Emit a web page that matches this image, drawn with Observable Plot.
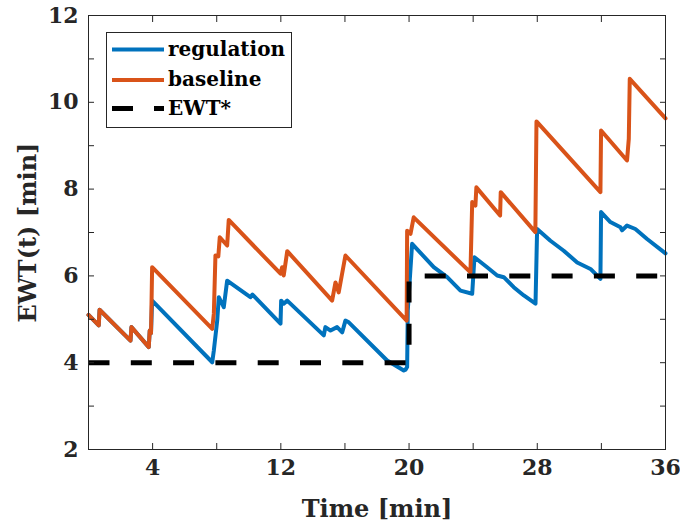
<!DOCTYPE html>
<html><head><meta charset="utf-8">
<script src="https://cdn.jsdelivr.net/npm/d3@7"></script>
<script src="https://cdn.jsdelivr.net/npm/@observablehq/plot@0.6"></script>
<style>body{margin:0;background:#fff} svg{display:block}</style>
</head><body><div id="chart"></div>
<script>
// ---- data ----
const regTime = [0, 0.64, 0.69, 2.62, 2.68, 3.76, 3.82, 3.9, 3.97, 7.72, 7.82, 8.03, 8.13, 8.44, 8.65, 10.1, 10.23, 11.98, 12.02, 12.18, 12.4, 14.68, 14.78, 15.1, 15.51, 15.83, 16.03, 16.24, 18.63, 19.67, 19.78, 19.88, 19.92, 20.19, 21.54, 22.38, 23.21, 23.94, 24.08, 24.87, 25.5, 25.91, 26.53, 27.16, 27.89, 27.99, 28.82, 29.65, 30.49, 31.32, 31.94, 31.98, 32.56, 33.19, 33.29, 33.6, 34.12, 34.85, 36];
const regValue = [5.1, 4.86, 5.22, 4.51, 4.82, 4.36, 4.74, 4.68, 5.43, 4.01, 4.28, 4.97, 5.51, 5.28, 5.89, 5.51, 5.57, 4.9, 5.43, 5.36, 5.43, 4.63, 4.82, 4.74, 4.82, 4.7, 4.97, 4.93, 4.05, 3.82, 3.84, 3.9, 5.2, 6.74, 6.2, 5.97, 5.66, 5.59, 6.43, 6.2, 6.01, 5.97, 5.74, 5.55, 5.36, 7.08, 6.81, 6.58, 6.31, 6.16, 5.93, 7.47, 7.24, 7.12, 7.05, 7.16, 7.08, 6.85, 6.52];

const baseTime = [0, 0.64, 0.69, 2.62, 2.68, 3.76, 3.82, 3.9, 3.97, 7.72, 7.82, 7.92, 8.1, 8.19, 8.65, 8.75, 11.98, 12.08, 12.18, 12.4, 15.2, 15.41, 15.61, 16.03, 19.85, 19.88, 20.09, 20.29, 23.83, 23.94, 24.14, 24.2, 25.68, 25.72, 27.88, 27.95, 31.94, 31.98, 33.6, 33.71, 33.77, 36];
const baseValue = [5.1, 4.86, 5.22, 4.51, 4.82, 4.36, 4.74, 4.68, 6.2, 4.78, 5.13, 6.47, 6.45, 6.89, 6.7, 7.29, 6.05, 6.2, 6.01, 6.57, 5.43, 5.85, 5.62, 6.47, 4.97, 7.04, 6.97, 7.35, 6.08, 7.7, 7.62, 8.04, 7.39, 7.93, 7.01, 9.56, 7.93, 9.35, 8.66, 9.16, 10.54, 9.63];

const targetTime = [0, 20, 20, 36];
const targetValue = [4, 4, 6, 6];

const seriesNames = ["regulation", "baseline", "EWT*"];
const seriesColors = ["#0072BD", "#D95319", "#000000"];

const xTickLabels = [4, 12, 20, 28, 36];
const xTicksAll = [4, 8, 12, 16, 20, 24, 28, 32];
const yTickLabels = [2, 4, 6, 8, 10, 12];
const yTicksAll = [3, 4, 5, 6, 7, 8, 9, 10, 11];

// ---- build tables ----
const regulation = regTime.map((t, i) => ({t, v: regValue[i]}));
const baseline = baseTime.map((t, i) => ({t, v: baseValue[i]}));
const target = targetTime.map((t, i) => ({t, v: targetValue[i]}));

const FONT = "DejaVu Serif";
const INK = "#262626";

const plot = Plot.plot({
  width: 680, height: 531,
  marginLeft: 88, marginRight: 15, marginTop: 15, marginBottom: 82,
  x: {domain: [0, 36]},
  y: {domain: [2, 12]},
  style: {fontFamily: FONT, fontWeight: "bold", fontSize: "22px", color: INK, background: "#fff"},
  marks: [
    Plot.line(regulation, {x: "t", y: "v", stroke: seriesColors[0], strokeWidth: 4, strokeLinejoin: "round", strokeLinecap: "round"}),
    Plot.line(baseline, {x: "t", y: "v", stroke: seriesColors[1], strokeWidth: 4, strokeLinejoin: "round", strokeLinecap: "round"}),
    Plot.line(target, {x: "t", y: "v", stroke: seriesColors[2], strokeWidth: 5, strokeDasharray: "21,21.3", strokeLinecap: "butt", strokeLinejoin: "miter"}),
    Plot.frame({stroke: INK, strokeWidth: 1}),
    // inward ticks on all four sides
    Plot.axisX(xTicksAll, {anchor: "bottom", tickSize: 6, dy: -6, fill: "none", stroke: INK, label: null}),
    Plot.axisX(xTicksAll, {anchor: "top", tickSize: 6, dy: 6, fill: "none", stroke: INK, label: null}),
    Plot.axisY(yTicksAll, {anchor: "left", tickSize: 6, dx: 6, fill: "none", stroke: INK, label: null}),
    Plot.axisY(yTicksAll, {anchor: "right", tickSize: 6, dx: -6, fill: "none", stroke: INK, label: null}),
    // tick labels
    Plot.axisX(xTickLabels, {anchor: "bottom", tickSize: 0, tickPadding: 10, label: null, fill: INK, fontSize: 22}),
    Plot.axisY(yTickLabels, {anchor: "left", tickSize: 0, tickPadding: 10, label: null, fill: INK, fontSize: 22}),
    // axis titles
    Plot.text(["Time [min]"], {frameAnchor: "bottom", dy: 60, text: d => d, textAnchor: "middle", lineAnchor: "middle", fontSize: 24, fill: INK, fontWeight: "bold"}),
    Plot.text(["EWT(t) [min]"], {frameAnchor: "left", dx: -60, rotate: -90, text: d => d, textAnchor: "middle", lineAnchor: "middle", fontSize: 24, fill: INK, fontWeight: "bold"})
  ]
});

// ---- legend (inside the axes, top-left) ----
const svg = d3.select(plot);
const lg = svg.append("g").attr("font-family", FONT).attr("font-weight", "bold").attr("font-size", 20).attr("text-anchor", "start");
lg.append("rect").attr("x", 106.5).attr("y", 32.5).attr("width", 185).attr("height", 95)
  .attr("fill", "#fff").attr("stroke", INK).attr("stroke-width", 1);
const rowsY = [49.5, 80, 108.5];
seriesNames.forEach((name, i) => {
  lg.append("line").attr("x1", 112).attr("x2", 164).attr("y1", rowsY[i]).attr("y2", rowsY[i])
    .attr("stroke", seriesColors[i]).attr("stroke-width", i === 2 ? 5 : 4)
    .attr("stroke-dasharray", i === 2 ? "21,21" : null);
  lg.append("text").attr("x", 168).attr("y", rowsY[i]).attr("dy", "0.32em")
    .attr("text-anchor", "start").attr("fill", "#000").text(name);
});

document.getElementById("chart").appendChild(plot);
</script>
</body></html>
